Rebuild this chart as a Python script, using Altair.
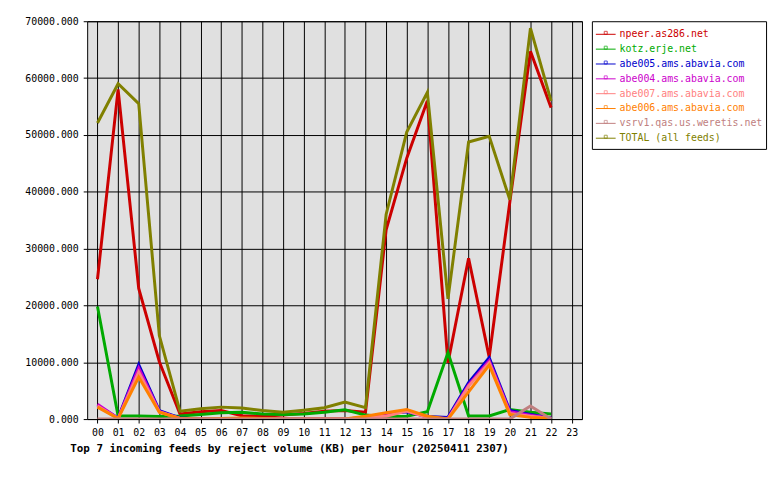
import altair as alt
import pandas as pd

hours = list(range(23))
feeds = [
    "npeer.as286.net",
    "kotz.erje.net",
    "abe005.ams.abavia.com",
    "abe004.ams.abavia.com",
    "abe007.ams.abavia.com",
    "abe006.ams.abavia.com",
    "vsrv1.qas.us.weretis.net",
    "TOTAL (all feeds)",
]
colors = ["#cc0000", "#00aa00", "#0000cc", "#cc00cc", "#ff8080", "#ff8000", "#c08080", "#808000"]

npeer = [24600, 58000, 23000, 10100, 900, 1300, 1500, 600, 500, 700, 1000, 1400, 1500, 1200,
         33300, 45900, 56000, 9900, 28300, 10900, 38200, 64700, 54800]
kotz = [19800, 550, 550, 450, 550, 800, 1100, 1200, 900, 800, 900, 1200, 1650, 700,
        400, 500, 1300, 11700, 550, 550, 1700, 1200, 900]
abe005 = [2400, 200, 9600, 1500, 200, 0, 0, 0, 0, 0, 0, 0, 0, 300,
          900, 1300, 450, 300, 6400, 10800, 1500, 800, 200]
abe004 = [2600, 150, 9000, 1350, 100, 0, 0, 0, 0, 0, 0, 0, 0, 200,
          800, 1400, 300, 100, 6000, 10300, 1300, 700, 150]
abe007 = [2300, 100, 8300, 1250, 100, 0, 0, 0, 0, 0, 0, 0, 0, 300,
          500, 1400, 300, 0, 5800, 9900, 1000, 500, 100]
abe006 = [2100, 100, 7400, 1200, 100, 0, 100, 200, 100, 0, 0, 0, 0, 500,
          1100, 1700, 500, 0, 4800, 9500, 800, 300, 100]
vsrv1 = [0, 0, 0, 0, 0, 0, 0, 0, 0, 0, 0, 0, 0, 0,
         0, 0, 0, 0, 0, 0, 0, 2300, 0]
total = [52100, 59000, 55500, 14700, 1400, 1800, 2100, 1950, 1500, 1200, 1570, 2000, 3000, 2000,
         36000, 50500, 57500, 21150, 48760, 49760, 38600, 68800, 56000]

series = [npeer, kotz, abe005, abe004, abe007, abe006, vsrv1, total]
hour_ticks = list(range(24))
kb_ticks = [0, 10000, 20000, 30000, 40000, 50000, 60000, 70000]
TITLE = "Top 7 incoming feeds by reject volume (KB) per hour (20250411 2307)"

rows = []
for name, vals in zip(feeds, series):
    for h, v in zip(hours, vals):
        rows.append({"hour": h, "kb": v, "feed": name})
df = pd.DataFrame(rows)

FONT = "DejaVu Sans Mono"
color_scale = alt.Scale(domain=feeds, range=colors)

main = alt.Chart(df).mark_line(strokeWidth=3, clip=True).encode(
    x=alt.X(
        "hour:Q",
        scale=alt.Scale(domain=[-0.5, 23.5], nice=False, zero=False),
        axis=alt.Axis(
            values=hour_ticks,
            labelExpr="datum.value < 10 ? '0' + datum.value : '' + datum.value",
            labelAngle=0,
            labelPadding=5,
            tickSize=4,
            domain=False,
            grid=True,
            title=TITLE,
            titleFont=FONT,
            titleFontSize=11,
            titleFontWeight="bold",
            titleColor="black",
            titleAlign="left",
            titleAnchor="start",
            titleBaseline="alphabetic",
            titleX=-17.6,
            titleY=32.7,
        ),
    ),
    y=alt.Y(
        "kb:Q",
        scale=alt.Scale(domain=[0, 70000], nice=False),
        axis=alt.Axis(
            values=kb_ticks,
            format=".3f",
            tickSize=4,
            labelPadding=5,
            domain=False,
            grid=True,
            title=None,
        ),
    ),
    color=alt.Color("feed:N", scale=color_scale, legend=None),
).properties(
    width=500,
    height=402,
    view=alt.ViewBackground(fill="#e0e0e0", stroke="black", strokeWidth=1),
)

leg_df = pd.DataFrame({"feed": feeds, "idx": list(range(len(feeds)))})
leg_base = alt.Chart(leg_df).encode(
    y=alt.Y("idx:O", axis=None, scale=alt.Scale(type="point", padding=0.8, align=0.55)),
    color=alt.Color("feed:N", scale=color_scale, legend=None),
)
leg_rule = leg_base.mark_rule(strokeWidth=1).encode(x=alt.value(4), x2=alt.value(24))
leg_mark = leg_base.mark_square(filled=False, size=9, strokeWidth=1, yOffset=-1.5).encode(x=alt.value(14))
leg_text = leg_base.mark_text(align="left", baseline="middle", font=FONT, fontSize=10).encode(
    x=alt.value(28), text="feed:N"
)
legend = alt.layer(leg_rule, leg_mark, leg_text).properties(
    width=176,
    height=129,
    view=alt.ViewBackground(fill="white", stroke="black", strokeWidth=1),
)

chart = alt.hconcat(main, legend, spacing=10, bounds="flush").properties(
    padding={"left": 16, "top": 5, "right": 5, "bottom": 5},
    background="white",
).configure_axis(
    labelFont=FONT,
    labelFontSize=10,
    labelColor="black",
    tickColor="black",
    gridColor="black",
    gridOpacity=1,
    gridWidth=1,
)

chart.save("out.html", embed_options={"renderer": "svg", "actions": False})
